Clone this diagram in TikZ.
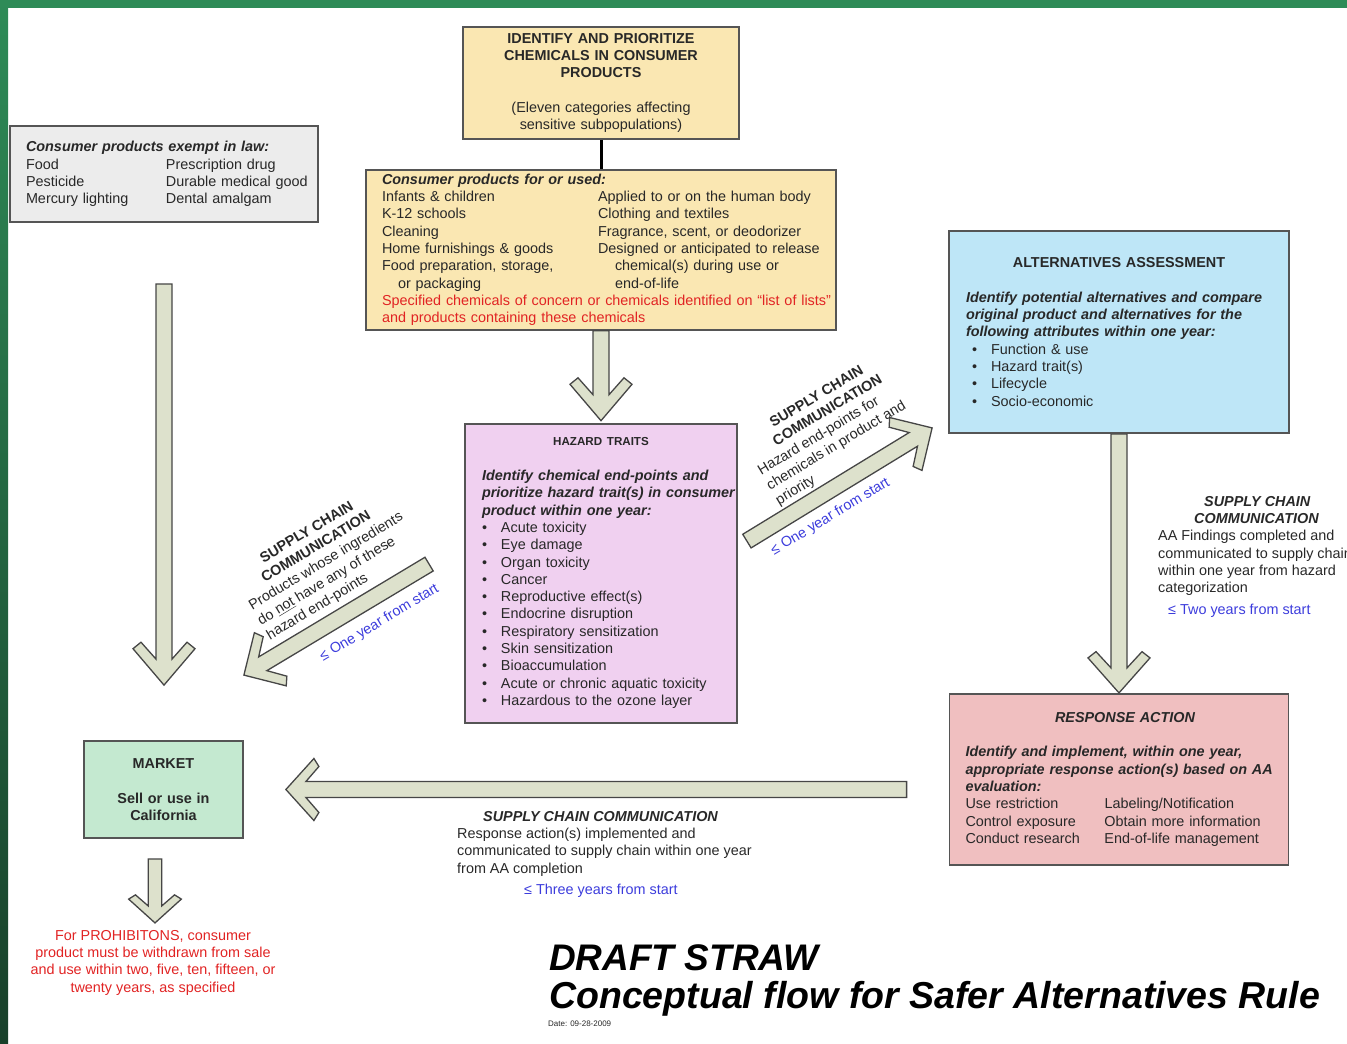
\documentclass[tikz,border=0pt]{standalone}
\usepackage{fontspec}
\setmainfont{Liberation Sans}
\usepackage{tikz}
\usetikzlibrary{
	calc,
	positioning,
}
\definecolor{ink}{RGB}{40,40,40}
\definecolor{frameline}{RGB}{85,85,85}
\definecolor{tanfill}{RGB}{250,231,178}
\definecolor{grayfill}{RGB}{236,236,236}
\definecolor{bluefill}{RGB}{190,230,247}
\definecolor{lilacfill}{RGB}{240,208,240}
\definecolor{rosefill}{RGB}{240,191,192}
\definecolor{mintfill}{RGB}{196,233,208}
\definecolor{arrowfill}{RGB}{221,225,204}
\definecolor{arrowline}{RGB}{70,70,70}
\definecolor{alertred}{RGB}{225,35,35}
\definecolor{timeblue}{RGB}{60,60,220}
\definecolor{framegreen}{RGB}{46,139,87}
\definecolor{framedark}{RGB}{24,64,42}

\newcommand{\bodyfont}{\fontsize{14.4}{17.3}\selectfont}
\newcommand{\bi}[1]{\mbox{\bfseries\itshape #1}}
\newcommand{\twocol}[3]{\mbox{\makebox[#1][l]{#2}#3}}
\newcommand{\bul}[2][0pt]{\mbox{\makebox[\dimexpr19pt+#1][l]{\hspace*{#1}\textbullet}#2}}

% block arrow from tail #3 to tip #4, head scaled by #1 (length) and #2 (width)
\newcommand{\blockarrow}[4]{%
	\path (#3); \pgfgetlastxy{\tailx}{\taily}
	\path (#4); \pgfgetlastxy{\tipx}{\tipy}
	\pgfmathsetmacro{\arrang}{atan2((\tipy)-(\taily),(\tipx)-(\tailx))}
	\pgfmathsetmacro{\arrlen}{veclen((\tipx)-(\tailx),(\tipy)-(\taily))/#1}
	\draw[blockarrow, shift={(#4)}, rotate=\arrang, x=#1pt, y=#2pt]
		(-\arrlen,8) -- (-20,8) -- (-33,23) -- (-28,31) -- (0,0)
		-- (-28,-31) -- (-33,-23) -- (-20,-8) -- (-\arrlen,-8) -- cycle;
}

\tikzset{box/.style={draw=frameline,line width=1.8pt,inner ysep=0pt,inner xsep=16pt,text=ink,font=\bodyfont,align=left,}}
\tikzset{sidenote/.style={inner sep=0pt,text=ink,font=\bodyfont,align=left,}}
\tikzset{blockarrow/.style={draw=arrowline,fill=arrowfill,line width=1.3pt,line join=miter,}}
\tikzset{headline/.style={inner sep=0pt,text=black,font=\fontsize{37}{44}\selectfont\bfseries\itshape,}}

\begin{document}
\begin{tikzpicture}[x=1pt, y=-1pt]

\useasboundingbox (0,0) rectangle (1347,1044);

% frame
\fill[framegreen] (0,0) rectangle (1347,8);
\shade[top color=framegreen, bottom color=framedark] (0,0) rectangle (8,1044);

% boxes
\node[box, fill=tanfill, minimum width=276pt, minimum height=112pt, text width=244pt, align=center] (identify) at (601,83)
	{\textbf{IDENTIFY AND PRIORITIZE}\\ \textbf{CHEMICALS IN CONSUMER}\\ \textbf{PRODUCTS}\\ ~\\
	(Eleven categories affecting\\ sensitive subpopulations)};

\node[box, fill=tanfill, minimum width=470pt, minimum height=160pt, text width=438pt, below=29pt of identify] (consumer)
	{\bi{Consumer products for or used:}\\
	\twocol{216pt}{Infants \& children}{Applied to or on the human body}\\
	\twocol{216pt}{K-12 schools}{Clothing and textiles}\\
	\twocol{216pt}{Cleaning}{Fragrance, scent, or deodorizer}\\
	\twocol{216pt}{Home furnishings \& goods}{Designed or anticipated to release}\\
	\twocol{216pt}{Food preparation, storage,}{\hspace*{17pt}chemical(s) during use or}\\
	\twocol{216pt}{\hspace*{16pt}or packaging}{\hspace*{17pt}end-of-life}\\
	\textcolor{alertred}{\mbox{Specified chemicals of concern or chemicals identified on ``list of lists''}}\\
	\textcolor{alertred}{and products containing these chemicals}};

\node[box, fill=grayfill, minimum width=308pt, minimum height=96pt, text width=276pt] (exempt) at (164,174)
	{\bi{Consumer products exempt in law:}\\
	\twocol{140pt}{Food}{Prescription drug}\\
	\twocol{140pt}{Pesticide}{Durable medical good}\\
	\twocol{140pt}{Mercury lighting}{Dental amalgam}};

\node[box, fill=lilacfill, minimum width=272pt, minimum height=299pt, inner xsep=17pt, text width=238pt, below=92pt of consumer] (hazard)
	{\makebox[\hsize][c]{\fontsize{11.6}{17.3}\selectfont\textbf{HAZARD TRAITS}}\\ ~\\
	\bi{Identify chemical end-points and}\\
	\bi{prioritize hazard trait(s) in consumer}\\
	\bi{product within one year:}\\
	\bul{Acute toxicity}\\
	\bul{Eye damage}\\
	\bul{Organ toxicity}\\
	\bul{Cancer}\\
	\bul{Reproductive effect(s)}\\
	\bul{Endocrine disruption}\\
	\bul{Respiratory sensitization}\\
	\bul{Skin sensitization}\\
	\bul{Bioaccumulation}\\
	\bul{Acute or chronic aquatic toxicity}\\
	\bul{Hazardous to the ozone layer}};

\node[box, fill=bluefill, minimum width=340pt, minimum height=202pt, inner xsep=17pt, text width=306pt] (alternatives) at (1119,332)
	{\makebox[\hsize][c]{\textbf{ALTERNATIVES ASSESSMENT}}\\ ~\\
	\bi{Identify potential alternatives and compare}\\
	\bi{original product and alternatives for the}\\
	\bi{following attributes within one year:}\\
	\bul[6pt]{Function \& use}\\
	\bul[6pt]{Hazard trait(s)}\\
	\bul[6pt]{Lifecycle}\\
	\bul[6pt]{Socio-economic}};

\node[box, fill=rosefill, minimum width=339pt, minimum height=171pt, text width=307pt, below=259pt of alternatives] (response)
	{\makebox[\hsize][c]{\hspace*{12pt}\bi{RESPONSE ACTION}}\\ ~\\
	\bi{Identify and implement, within one year,}\\
	\bi{appropriate response action(s) based on AA}\\
	\bi{evaluation:}\\
	\twocol{139pt}{Use restriction}{Labeling/Notification}\\
	\twocol{139pt}{Control exposure}{Obtain more information}\\
	\twocol{139pt}{Conduct research}{End-of-life management}};

\node[box, fill=mintfill, minimum width=159pt, minimum height=97pt, text width=127pt, align=center] (market) at (163.5,789.5)
	{\textbf{MARKET}\\ ~\\ \textbf{Sell or use in}\\ \textbf{California}};

% connectors
\draw[line width=3pt] (identify) -- (consumer);

\coordinate (exempt tail) at ($(exempt.south)+(0,61)$);
\coordinate (exempt tip) at ($(exempt.south |- market.north)+(0,-55)$);
\coordinate (hazard tip) at ($(hazard.north)+(0,-2)$);
\coordinate (response tip) at (alternatives.south |- response.north);
\coordinate (back tail) at ($(response.west |- market.east)+(-42,0)$);
\coordinate (back tip) at ($(market.east)+(42,0)$);
\coordinate (nohaz tail) at ($(hazard.west)+(-35,-9)$);
\coordinate (nohaz tip) at ($(market.north east)+(0,-65)$);
\coordinate (haz tail) at ($(hazard.east)+(9,-32)$);
\coordinate (haz tip) at ($(alternatives.south west)+(-16,-6)$);
\coordinate (sale tail) at ($(market.south)+(-8.5,20)$);
\coordinate (sale tip) at ($(market.south)+(-8.5,84)$);

\blockarrow{1.3}{1}{exempt tail}{exempt tip}
\blockarrow{1.3}{1}{consumer.south}{hazard tip}
\blockarrow{1.25}{1}{alternatives.south}{response tip}
\blockarrow{1}{1}{back tail}{back tip}
\blockarrow{1.1}{1}{nohaz tail}{nohaz tip}
\blockarrow{1.1}{1}{haz tail}{haz tip}
\blockarrow{0.85}{0.85}{sale tail}{sale tip}

% supply chain notes
\node[sidenote, rotate=31, anchor=north west] (nohaz note) at (229,572)
	{\hspace*{34pt}\textbf{SUPPLY CHAIN}\\ \hspace*{25pt}\textbf{COMMUNICATION}\\
	Products whose ingredients\\ do \underline{not} have any of these\\ hazard end-points};
\node[sidenote, rotate=31, anchor=west, text=timeblue] (nohaz time) at (321,658) {≤ One year from start};

\node[sidenote, rotate=31, anchor=north west] (haz note) at (738,437)
	{\hspace*{35pt}\textbf{SUPPLY CHAIN}\\ \hspace*{28pt}\textbf{COMMUNICATION}\\
	Hazard end-points for\\ chemicals in product and\\ priority};
\node[sidenote, rotate=31, anchor=west, text=timeblue] (haz time) at (772,552) {≤ One year from start};

\node[sidenote, anchor=north west] (aa note) at (1158,496)
	{\hspace*{46pt}\bi{SUPPLY CHAIN}\\ \hspace*{36pt}\bi{COMMUNICATION}\\
	AA Findings completed and\\ communicated to supply chain\\ within one year from hazard\\ categorization\\[4pt]
	\hspace*{10pt}\textcolor{timeblue}{≤ Two years from start}};

\node[sidenote, anchor=north west] (back note) at (457,811)
	{\hspace*{26pt}\bi{SUPPLY CHAIN COMMUNICATION}\\
	Response action(s) implemented and\\ communicated to supply chain within one year\\ from AA completion\\[4pt]
	\hspace*{67pt}\textcolor{timeblue}{≤ Three years from start}};

\node[sidenote, anchor=north, align=center, text=alertred] (prohibit) at (153,930)
	{For PROHIBITONS, consumer\\ product must be withdrawn from sale\\ and use within two, five, ten, fifteen, or\\ twenty years, as specified};

% title
\node[headline, anchor=base west] (draft) at (549,970) {DRAFT STRAW};
\node[headline, anchor=base west, font=\fontsize{37.5}{44}\selectfont\bfseries\itshape] (concept) at (549,1008) {Conceptual flow for Safer Alternatives Rule};
\node[inner sep=0pt, anchor=base west, font=\fontsize{8}{9.6}\selectfont, text=ink] (date) at (548,1026) {Date: 09-28-2009};

\end{tikzpicture}
\end{document}
